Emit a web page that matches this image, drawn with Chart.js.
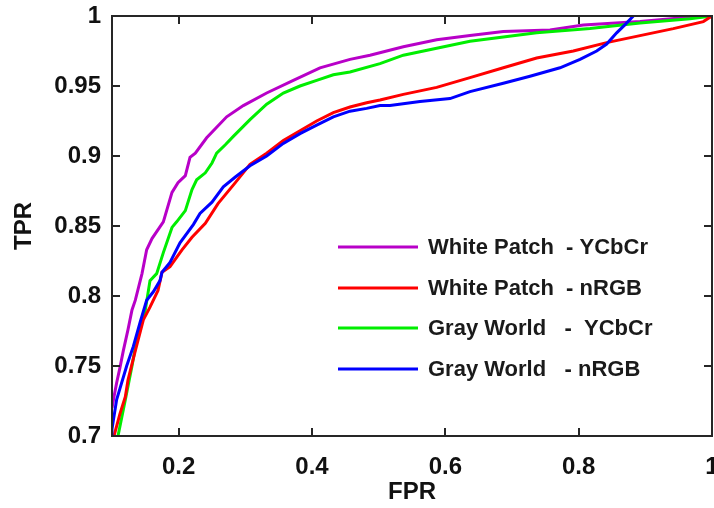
<!DOCTYPE html>
<html>
<head>
<meta charset="utf-8">
<script src="https://cdn.jsdelivr.net/npm/chart.js@4.4.1/dist/chart.umd.min.js"></script>
<style>
html,body{margin:0;padding:0;background:#fff;}
#wrap{width:714px;height:508px;position:relative;}
</style>
</head>
<body>
<div id="wrap"><canvas id="c" width="714" height="508"></canvas></div>
<script>
// ---- data ----
const seriesNames = ['White Patch  - YCbCr', 'White Patch  - nRGB', 'Gray World   -  YCbCr', 'Gray World   - nRGB'];

const fprWhiteYCbCr = [0.100,0.103,0.107,0.112,0.117,0.124,0.130,0.135,0.145,0.152,0.160,0.177,0.190,0.199,0.210,0.217,0.225,0.242,0.272,0.297,0.332,0.372,0.412,0.457,0.487,0.537,0.587,0.637,0.687,0.757,0.807,0.892,0.962,1.000];
const tprWhiteYCbCr = [0.720,0.728,0.738,0.749,0.761,0.776,0.790,0.797,0.816,0.833,0.841,0.853,0.874,0.881,0.886,0.899,0.902,0.913,0.928,0.936,0.945,0.954,0.963,0.969,0.972,0.978,0.983,0.986,0.989,0.990,0.9936,0.996,0.999,1.000];

const fprWhiteNRGB = [0.100,0.103,0.112,0.120,0.124,0.135,0.147,0.157,0.169,0.175,0.187,0.205,0.220,0.240,0.259,0.285,0.307,0.332,0.357,0.382,0.407,0.432,0.457,0.482,0.502,0.537,0.587,0.637,0.687,0.737,0.792,0.842,0.892,0.942,0.987,1.000];
const tprWhiteNRGB = [0.695,0.700,0.716,0.728,0.740,0.761,0.783,0.792,0.804,0.817,0.821,0.833,0.842,0.852,0.866,0.881,0.894,0.902,0.911,0.918,0.925,0.931,0.935,0.938,0.940,0.944,0.949,0.956,0.963,0.970,0.975,0.981,0.986,0.991,0.996,1.000];

const fprGrayYCbCr = [0.109,0.120,0.130,0.139,0.150,0.157,0.167,0.177,0.190,0.197,0.210,0.220,0.227,0.240,0.250,0.257,0.270,0.282,0.307,0.332,0.357,0.382,0.407,0.432,0.457,0.502,0.537,0.587,0.637,0.687,0.737,0.817,0.892,0.967,1.000];
const tprGrayYCbCr = [0.700,0.726,0.750,0.774,0.790,0.811,0.816,0.831,0.849,0.853,0.861,0.876,0.883,0.888,0.895,0.902,0.908,0.914,0.926,0.937,0.945,0.950,0.954,0.958,0.960,0.966,0.972,0.977,0.982,0.985,0.988,0.991,0.995,0.998,1.000];

const fprGrayNRGB = [0.100,0.100,0.102,0.107,0.112,0.122,0.132,0.142,0.152,0.162,0.172,0.175,0.187,0.202,0.222,0.232,0.250,0.267,0.285,0.307,0.332,0.357,0.382,0.407,0.432,0.457,0.482,0.502,0.517,0.562,0.607,0.637,0.687,0.727,0.772,0.802,0.827,0.842,0.857,0.870,0.882];
const tprGrayNRGB = [0.690,0.705,0.711,0.726,0.734,0.750,0.764,0.781,0.797,0.803,0.811,0.817,0.824,0.838,0.851,0.859,0.867,0.878,0.885,0.893,0.900,0.909,0.916,0.922,0.928,0.932,0.934,0.936,0.936,0.939,0.941,0.946,0.952,0.957,0.963,0.969,0.975,0.980,0.988,0.994,1.000];

const xTickValues = [0.2, 0.4, 0.6, 0.8, 1];
const yTickValues = [0.7, 0.75, 0.8, 0.85, 0.9, 0.95, 1];
const seriesColors = ['#b800c8', '#ff0000', '#00ee00', '#0000ff'];

// ---- build datasets ----
function zip(xs, ys){ return xs.map((x,i)=>({x:x, y:ys[i]})); }
const seriesData = [
  zip(fprWhiteYCbCr, tprWhiteYCbCr),
  zip(fprWhiteNRGB, tprWhiteNRGB),
  zip(fprGrayYCbCr, tprGrayYCbCr),
  zip(fprGrayNRGB, tprGrayNRGB)
];
const drawOrder = [3, 1, 2, 0];
const datasets = seriesData.map((d,i)=>({
  label: seriesNames[i],
  data: d,
  borderColor: seriesColors[i],
  backgroundColor: seriesColors[i],
  borderWidth: 3,
  pointRadius: 0,
  tension: 0,
  fill: false,
  order: drawOrder[i]
}));

const FONT = "'Liberation Sans', Arial, Helvetica, sans-serif";
const AXIS_COLOR = '#262626';

const framePlugin = {
  id: 'frame',
  afterDatasetsDraw(chart){
    const {ctx, chartArea:a, scales} = chart;
    ctx.save();
    ctx.strokeStyle = AXIS_COLOR;
    ctx.lineWidth = 2;
    ctx.strokeRect(a.left, a.top, a.right - a.left, a.bottom - a.top);
    const tl = 8;
    ctx.beginPath();
    scales.x.ticks.forEach(t=>{
      const px = Math.round(scales.x.getPixelForValue(t.value));
      ctx.moveTo(px, a.bottom); ctx.lineTo(px, a.bottom - tl);
      ctx.moveTo(px, a.top); ctx.lineTo(px, a.top + tl);
    });
    scales.y.ticks.forEach(t=>{
      const py = Math.round(scales.y.getPixelForValue(t.value));
      ctx.moveTo(a.left, py); ctx.lineTo(a.left + tl, py);
      ctx.moveTo(a.right, py); ctx.lineTo(a.right - tl, py);
    });
    ctx.stroke();
    ctx.restore();
  }
};

const legendPlugin = {
  id: 'insideLegend',
  afterDraw(chart){
    const {ctx, chartArea:a} = chart;
    ctx.save();
    const x0 = a.left + 226, x1 = a.left + 306, tx = a.left + 316;
    const y0 = a.top + 231, dy = 40.7;
    ctx.font = "bold 22px " + FONT;
    ctx.textBaseline = 'middle';
    ctx.textAlign = 'left';
    chart.data.datasets.forEach((ds,i)=>{
      const y = Math.round(y0 + i*dy);
      ctx.strokeStyle = ds.borderColor;
      ctx.lineWidth = 3;
      ctx.beginPath(); ctx.moveTo(x0, y); ctx.lineTo(x1, y); ctx.stroke();
      ctx.fillStyle = '#1a1a1a';
      ctx.fillText(ds.label, tx, y + 1);
    });
    ctx.restore();
  }
};

function fmt(v){ return String(Math.round(v*100)/100); }

new Chart(document.getElementById('c'), {
  type: 'line',
  data: { datasets },
  options: {
    responsive: false,
    animation: false,
    devicePixelRatio: 1,
    layout: { padding: { top: 16, right: 2, left: 0, bottom: 0 } },
    plugins: { legend: { display: false }, tooltip: { enabled: false } },
    scales: {
      x: {
        type: 'linear', min: 0.1, max: 1,
        afterBuildTicks(s){ s.ticks = xTickValues.map(v=>({value:v})); },
        afterFit(s){ s.height = 72; s.paddingLeft = 0; s.paddingRight = 0; },
        grid: { display: false, drawTicks: false },
        border: { display: false },
        ticks: { padding: 17, color: '#111', font: { family: FONT, size: 24, weight: 'bold' }, callback: v=>fmt(v), maxRotation: 0 },
        title: { display: true, text: 'FPR', color: '#111', font: { family: FONT, size: 24, weight: 'bold', lineHeight: 1 }, padding: { top: 0, bottom: 4 } }
      },
      y: {
        type: 'linear', min: 0.7, max: 1,
        afterBuildTicks(s){ s.ticks = yTickValues.map(v=>({value:v})); },
        afterFit(s){ s.width = 112; s.paddingTop = 0; s.paddingBottom = 0; },
        grid: { display: false, drawTicks: false },
        border: { display: false },
        ticks: { padding: 11, color: '#111', font: { family: FONT, size: 24, weight: 'bold' }, callback: v=>fmt(v) },
        title: { display: true, text: 'TPR', color: '#111', font: { family: FONT, size: 24, weight: 'bold', lineHeight: 1 }, padding: { top: 12, bottom: 0 } }
      }
    }
  },
  plugins: [framePlugin, legendPlugin]
});
</script>
</body>
</html>
